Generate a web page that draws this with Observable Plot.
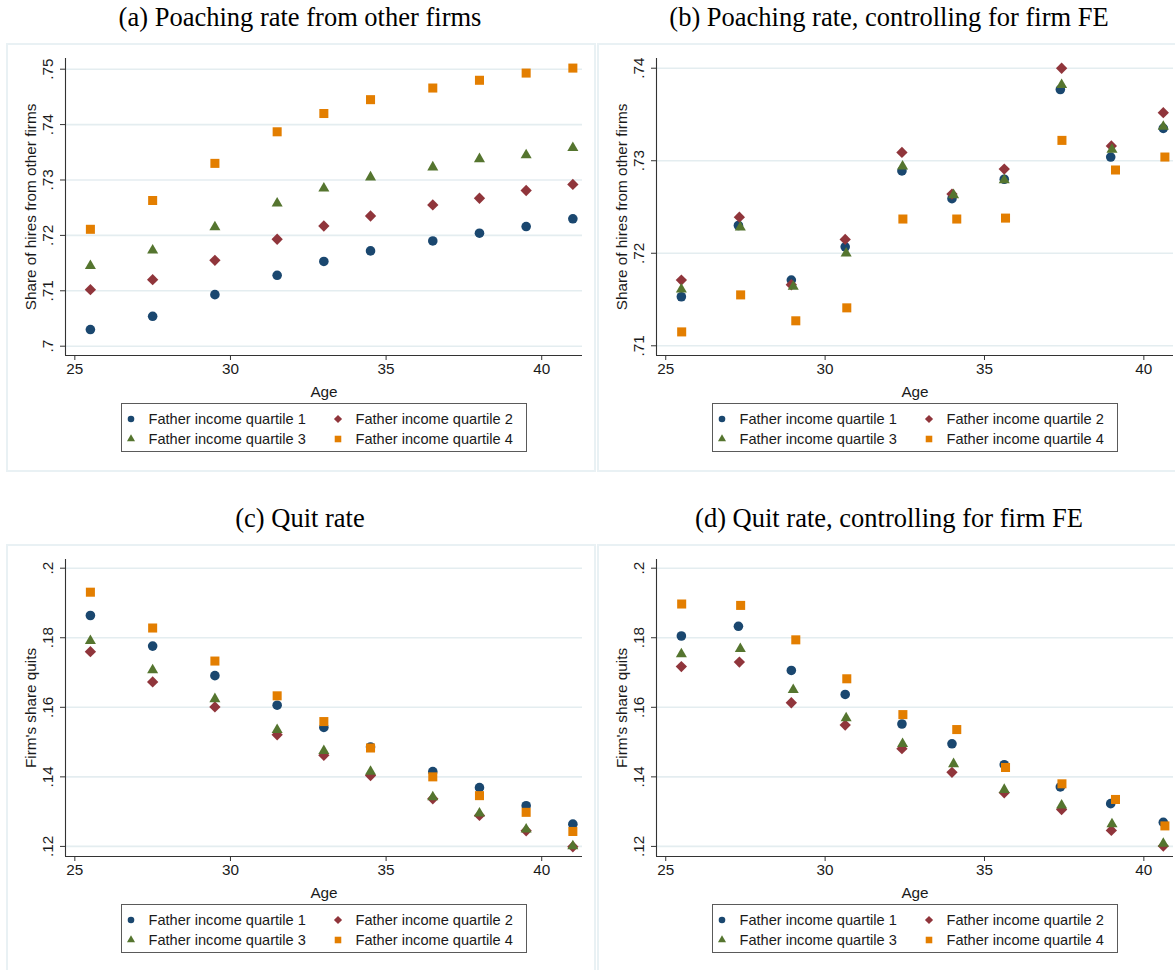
<!DOCTYPE html>
<html>
<head>
<meta charset="utf-8">
<script src="https://cdn.jsdelivr.net/npm/d3@7"></script>
<script src="https://cdn.jsdelivr.net/npm/@observablehq/plot@0.6"></script>
<style>
  html, body { margin: 0; padding: 0; background: #fff; }
  #page { position: relative; width: 1175px; height: 970px; overflow: hidden; background: #fff; }
  .title { position: absolute; font-family: "Liberation Serif", "Times New Roman", serif; font-size: 26.5px; color: #000; white-space: nowrap; transform: translate(-50%, -50%); }
  .box { position: absolute; border: 2px solid #e9f1f4; box-sizing: border-box; }
  .plot { position: absolute; }
  .legend { position: absolute; border: 1px solid #5a5a5a; background: #fff; box-sizing: border-box;
            font-family: "Liberation Sans", Arial, sans-serif; font-size: 14.6px; color: #1a1a1a; }
  .item { position: absolute; white-space: nowrap; line-height: 16px; }
  .item svg { position: absolute; left: -25px; top: 0; }
</style>
</head>
<body>
<div id="page"></div>
<script>
// Series labels and colours
const quartileNames = ["Father income quartile 1", "Father income quartile 2", "Father income quartile 3", "Father income quartile 4"];
const quartileColors = ["#1a476f", "#90353b", "#55752f", "#e37e00"];
const quartileSymbols = ["circle", "diamond2", "triangle", "square"];

// Tick values
const xTicks = [25, 30, 35, 40];
const poachTicks = [0.7, 0.71, 0.72, 0.73, 0.74, 0.75];
const poachFETicks = [0.71, 0.72, 0.73, 0.74];
const quitTicks = [0.12, 0.14, 0.16, 0.18, 0.2];

// Ages (raw panels share one age grid)
const ageRaw = [25.5, 27.5, 29.5, 31.5, 33, 34.5, 36.5, 38, 39.5, 41];
// Mean ages by quartile (firm fixed-effect panels)
const ageFEQ1 = [25.49, 27.28, 28.94, 30.63, 32.41, 33.98, 35.62, 37.38, 38.96, 40.61];
const ageFEQ2 = [25.49, 27.31, 28.94, 30.63, 32.41, 33.98, 35.62, 37.42, 38.98, 40.61];
const ageFEQ3 = [25.49, 27.34, 29.00, 30.66, 32.43, 34.03, 35.62, 37.42, 39.00, 40.61];
const ageFEQ4 = [25.50, 27.35, 29.08, 30.68, 32.44, 34.13, 35.66, 37.43, 39.11, 40.66];

// (a) Share of hires from other firms
const poachQ1 = [0.7030, 0.7054, 0.7093, 0.7128, 0.7153, 0.7172, 0.7190, 0.7204, 0.7216, 0.7230];
const poachQ2 = [0.7102, 0.7120, 0.7155, 0.7193, 0.7217, 0.7235, 0.7255, 0.7267, 0.7281, 0.7292];
const poachQ3 = [0.7145, 0.7173, 0.7215, 0.7258, 0.7285, 0.7305, 0.7323, 0.7338, 0.7345, 0.7358];
const poachQ4 = [0.7211, 0.7263, 0.7330, 0.7387, 0.7420, 0.7445, 0.7466, 0.7480, 0.7493, 0.7502];

// (b) Share of hires from other firms, firm FE
const poachFEQ1 = [0.7153, 0.7230, 0.7171, 0.7207, 0.7289, 0.7259, 0.7280, 0.7377, 0.7304, 0.7335];
const poachFEQ2 = [0.7171, 0.7239, 0.7166, 0.7215, 0.7309, 0.7264, 0.7291, 0.7400, 0.7316, 0.7352];
const poachFEQ3 = [0.7161, 0.7228, 0.7164, 0.7200, 0.7294, 0.7263, 0.7279, 0.7382, 0.7312, 0.7337];
const poachFEQ4 = [0.7115, 0.7155, 0.7127, 0.7141, 0.7237, 0.7237, 0.7238, 0.7322, 0.7290, 0.7304];

// (c) Firm's share quits
const quitQ1 = [0.1864, 0.1776, 0.1691, 0.1606, 0.1542, 0.1486, 0.1415, 0.1369, 0.1317, 0.1264];
const quitQ2 = [0.1760, 0.1673, 0.1601, 0.1521, 0.1462, 0.1404, 0.1337, 0.1289, 0.1245, 0.1199];
const quitQ3 = [0.1791, 0.1707, 0.1624, 0.1535, 0.1475, 0.1415, 0.1342, 0.1295, 0.1249, 0.1201];
const quitQ4 = [0.1931, 0.1828, 0.1733, 0.1633, 0.1559, 0.1483, 0.1400, 0.1346, 0.1298, 0.1243];

// (d) Firm's share quits, firm FE
const quitFEQ1 = [0.1805, 0.1833, 0.1706, 0.1637, 0.1552, 0.1495, 0.1435, 0.1371, 0.1323, 0.1269];
const quitFEQ2 = [0.1717, 0.1730, 0.1613, 0.1549, 0.1481, 0.1413, 0.1354, 0.1306, 0.1246, 0.1201];
const quitFEQ3 = [0.1753, 0.1768, 0.1650, 0.1569, 0.1495, 0.1437, 0.1363, 0.1318, 0.1264, 0.1208];
const quitFEQ4 = [0.1897, 0.1893, 0.1794, 0.1682, 0.1579, 0.1536, 0.1427, 0.1380, 0.1335, 0.1259];

// Marker radii per symbol (Plot's r gives area pi*r^2)
const markerR = [4.8, 5.1, 4.1, 5.1];
const legendR = [3.3, 3.7, 3.0, 3.7];

const page = document.getElementById("page");
const stataFormat = d => String(d).replace(/^0(?=\.)/, "");

function rows(ages, values) {
  return values.map((v, i) => ({age: ages[i], value: v}));
}

function legendSymbol(k) {
  const size = Math.PI * legendR[k] * legendR[k];
  const sym = {circle: d3.symbolCircle, diamond2: d3.symbolDiamond2, triangle: d3.symbolTriangle, square: d3.symbolSquare}[quartileSymbols[k]];
  const path = d3.symbol(sym, size)();
  return `<svg width="14" height="16" viewBox="-7 -8 14 16"><path d="${path}" fill="${quartileColors[k]}"/></svg>`;
}

function panel({left, top, title, titleX, yLabel, yDomain, yTicks, xDomain, series}) {
  const W = 590, H = 357;
  const mTop = 15, mLeft = 59, mRight = 14, mBottom = 45;

  const box = document.createElement("div");
  box.className = "box";
  Object.assign(box.style, {left: left + "px", top: top + "px", width: W + "px", height: "429px"});
  page.appendChild(box);

  const t = document.createElement("div");
  t.className = "title";
  t.textContent = title;
  Object.assign(t.style, {left: titleX + "px", top: (top - 26) + "px"});
  page.appendChild(t);

  const chart = Plot.plot({
    width: W, height: H,
    marginTop: mTop, marginLeft: mLeft, marginRight: mRight, marginBottom: mBottom,
    style: {fontFamily: "'Liberation Sans', Arial, sans-serif", fontSize: "15.3px", color: "#1a1a1a", background: "transparent", overflow: "visible"},
    x: {domain: xDomain},
    y: {domain: yDomain},
    marks: [
      Plot.gridY(yTicks, {stroke: "#e4edf0", strokeOpacity: 1, strokeWidth: 1.6}),
      Plot.ruleY([yDomain[0]], {stroke: "#333", strokeWidth: 1.1}),
      Plot.ruleX([xDomain[0]], {stroke: "#333", strokeWidth: 1.1}),
      Plot.axisX(xTicks, {tickSize: 5, tickPadding: 3, fontSize: 15.3, stroke: "#333",
        label: "Age", labelAnchor: "center", labelArrow: "none", labelOffset: 41}),
      Plot.axisY(yTicks, {tickSize: 5, tickPadding: 8, tickRotate: -90, fontSize: 15.3, stroke: "#333",
        tickFormat: stataFormat, label: yLabel, labelAnchor: "center", labelArrow: "none", labelOffset: 40}),
      ...series.map((s, k) => Plot.dot(rows(s.ages, s.values), {
        x: "age", y: "value", symbol: quartileSymbols[k], r: markerR[k],
        fill: quartileColors[k], stroke: "none"
      }))
    ]
  });
  chart.classList.add("plot");
  Object.assign(chart.style, {left: left + "px", top: top + "px"});
  page.appendChild(chart);

  // legend box centred under the plotting area
  const lw = 406, lh = 49;
  const plotCenter = left + mLeft + (W - mLeft - mRight) / 2;
  const lg = document.createElement("div");
  lg.className = "legend";
  Object.assign(lg.style, {left: (plotCenter - lw / 2) + "px", top: (top + 360) + "px", width: lw + "px", height: lh + "px"});
  const pos = [[27, 7], [234, 7], [27, 27], [234, 27]];
  quartileNames.forEach((name, k) => {
    const it = document.createElement("div");
    it.className = "item";
    it.style.left = pos[k][0] + "px";
    it.style.top = pos[k][1] + "px";
    it.innerHTML = legendSymbol(k) + name;
    lg.appendChild(it);
  });
  page.appendChild(lg);
}

panel({
  left: 6, top: 43, titleX: 300, title: "(a) Poaching rate from other firms",
  yLabel: "Share of hires from other firms", yDomain: [0.69832, 0.75193], yTicks: poachTicks, xDomain: [24.70, 41.31],
  series: [
    {ages: ageRaw, values: poachQ1}, {ages: ageRaw, values: poachQ2},
    {ages: ageRaw, values: poachQ3}, {ages: ageRaw, values: poachQ4}
  ]
});

panel({
  left: 597, top: 43, titleX: 889, title: "(b) Poaching rate, controlling for firm FE",
  yLabel: "Share of hires from other firms", yDomain: [0.70895, 0.74105], yTicks: poachFETicks, xDomain: [24.71, 40.93],
  series: [
    {ages: ageFEQ1, values: poachFEQ1}, {ages: ageFEQ2, values: poachFEQ2},
    {ages: ageFEQ3, values: poachFEQ3}, {ages: ageFEQ4, values: poachFEQ4}
  ]
});

panel({
  left: 6, top: 544, titleX: 300, title: "(c) Quit rate",
  yLabel: "Firm's share quits", yDomain: [0.1171, 0.2025], yTicks: quitTicks, xDomain: [24.70, 41.31],
  series: [
    {ages: ageRaw, values: quitQ1}, {ages: ageRaw, values: quitQ2},
    {ages: ageRaw, values: quitQ3}, {ages: ageRaw, values: quitQ4}
  ]
});

panel({
  left: 597, top: 544, titleX: 889, title: "(d) Quit rate, controlling for firm FE",
  yLabel: "Firm's share quits", yDomain: [0.1171, 0.2025], yTicks: quitTicks, xDomain: [24.71, 40.93],
  series: [
    {ages: ageFEQ1, values: quitFEQ1}, {ages: ageFEQ2, values: quitFEQ2},
    {ages: ageFEQ3, values: quitFEQ3}, {ages: ageFEQ4, values: quitFEQ4}
  ]
});
</script>
</body>
</html>
